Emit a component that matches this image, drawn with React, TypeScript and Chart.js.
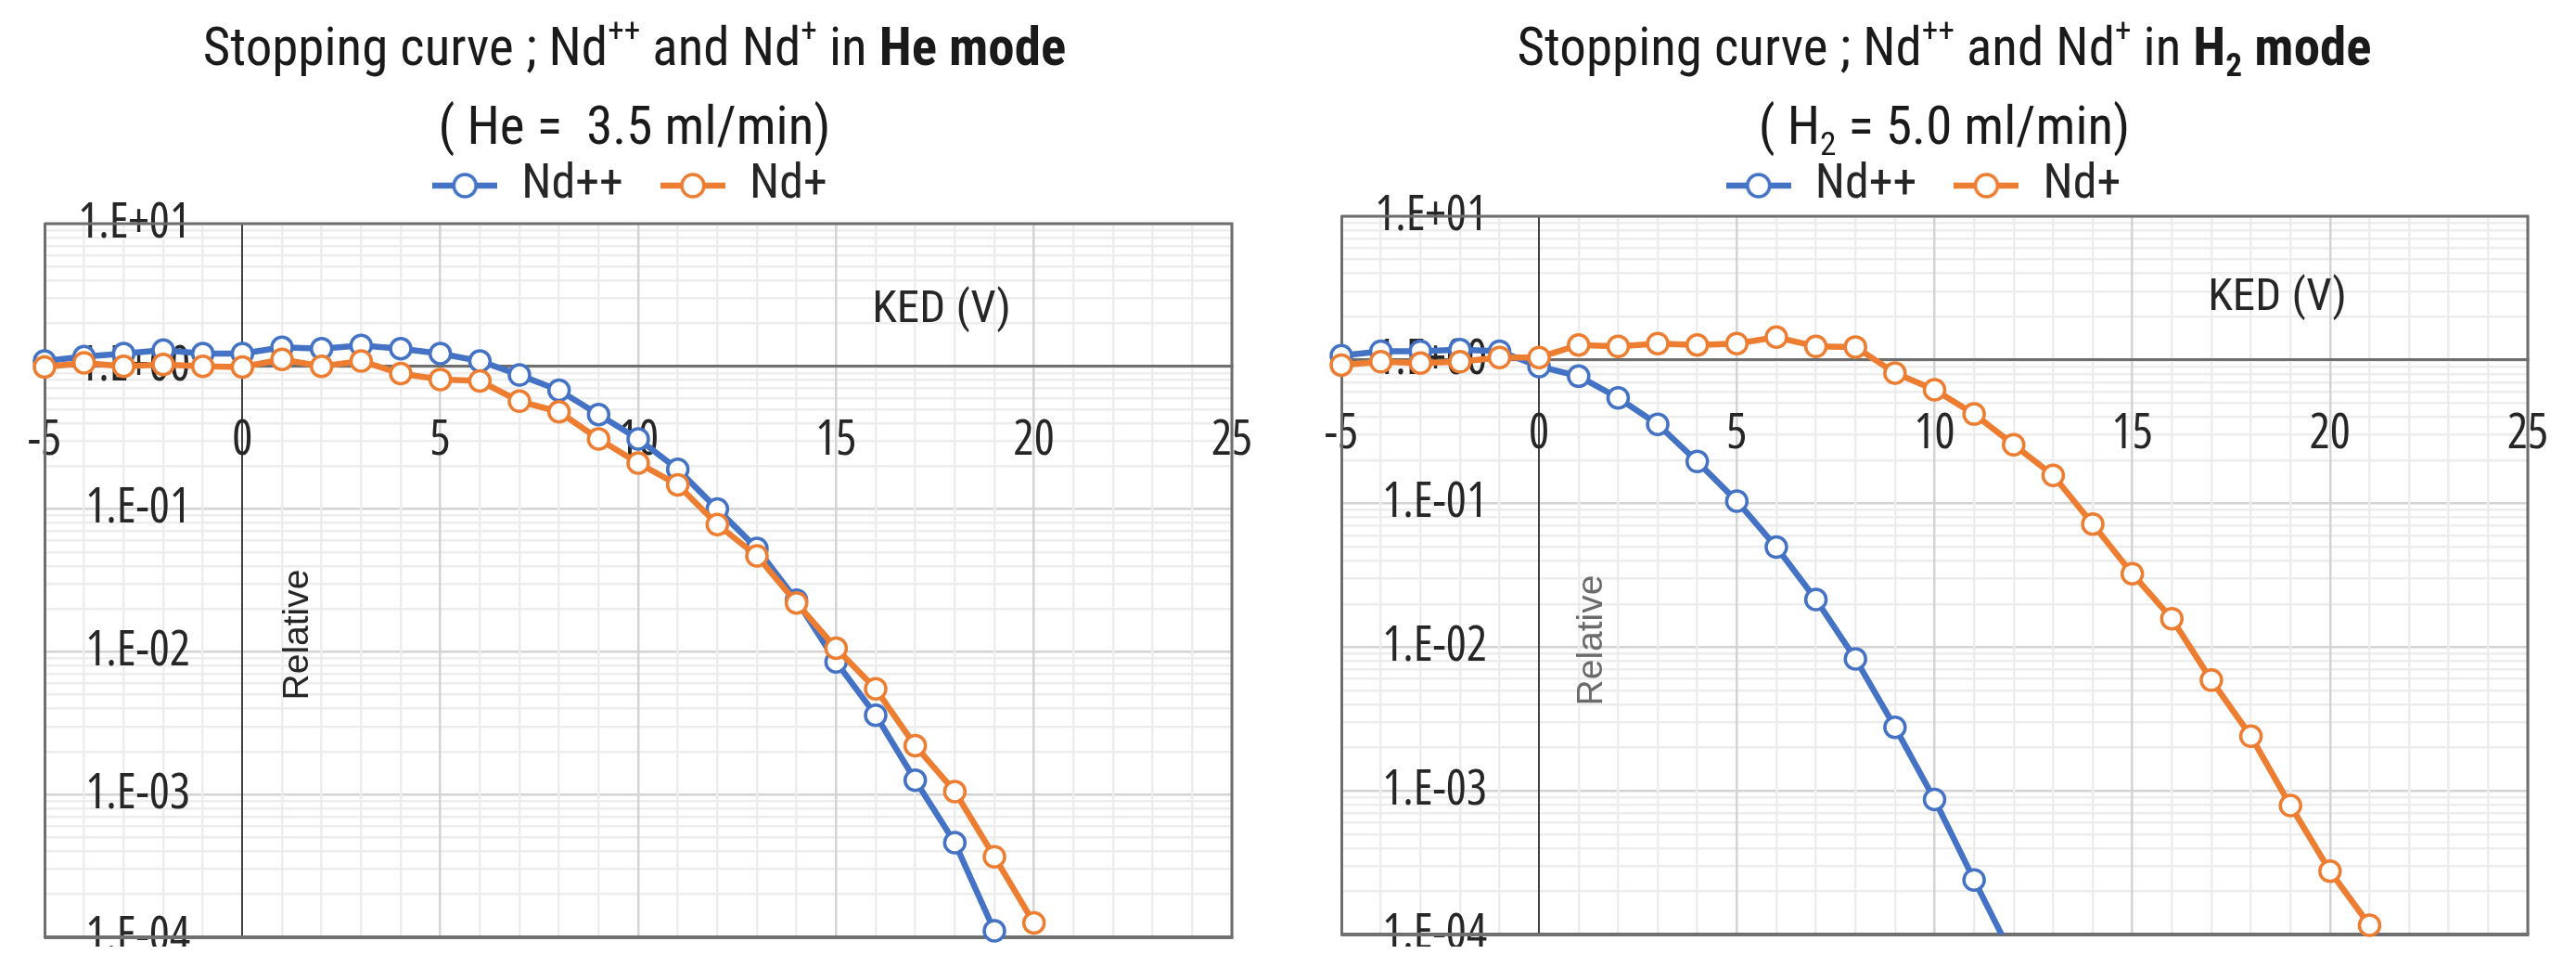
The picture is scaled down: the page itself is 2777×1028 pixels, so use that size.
import React, { useEffect, useRef } from 'react';
import { Chart, registerables } from 'chart.js';

Chart.register(...registerables);

// ---------------- data ----------------
const seriesNames = ['Nd++', 'Nd+'];

// He mode (He = 3.5 ml/min)
const kedHeNdPP = [-5, -4, -3, -2, -1, 0, 1, 2, 3, 4, 5, 6, 7, 8, 9, 10, 11, 12, 13, 14, 15, 16, 17, 18, 19];
const heNdPP = [1.09, 1.17, 1.23, 1.3, 1.23, 1.23, 1.36, 1.33, 1.4, 1.33, 1.23, 1.09, 0.87, 0.68, 0.46, 0.31, 0.19, 0.1, 0.053, 0.023, 0.0085, 0.0036, 0.00126, 0.00046, 0.000111];
const kedHeNdP = [-5, -4, -3, -2, -1, 0, 1, 2, 3, 4, 5, 6, 7, 8, 9, 10, 11, 12, 13, 14, 15, 16, 17, 18, 19, 20];
const heNdP = [0.99, 1.06, 1.0, 1.03, 1.0, 0.99, 1.12, 1.0, 1.09, 0.89, 0.81, 0.79, 0.57, 0.48, 0.31, 0.21, 0.148, 0.078, 0.047, 0.022, 0.0106, 0.0055, 0.0022, 0.00105, 0.000367, 0.000126];

// H2 mode (H2 = 5.0 ml/min)
const kedH2NdPP = [-5, -4, -3, -2, -1, 0, 1, 2, 3, 4, 5, 6, 7, 8, 9, 10, 11, 12];
const h2NdPP = [1.07, 1.15, 1.15, 1.18, 1.15, 0.9, 0.77, 0.544, 0.356, 0.196, 0.104, 0.0497, 0.0215, 0.0083, 0.00277, 0.00087, 0.00024, 0.000068];
const kedH2NdP = [-5, -4, -3, -2, -1, 0, 1, 2, 3, 4, 5, 6, 7, 8, 9, 10, 11, 12, 13, 14, 15, 16, 17, 18, 19, 20, 21];
const h2NdP = [0.92, 0.97, 0.95, 0.97, 1.04, 1.04, 1.27, 1.24, 1.3, 1.27, 1.3, 1.44, 1.24, 1.23, 0.81, 0.62, 0.42, 0.257, 0.157, 0.072, 0.0325, 0.0158, 0.0059, 0.0024, 0.00079, 0.000276, 0.000116];

// axes
const xMin = -5;
const xMax = 25;
const xLabelledTicks = [-5, 0, 5, 10, 15, 20, 25];
const yDecades = [0.0001, 0.001, 0.01, 0.1, 1, 10];
const yMinorMultipliers = [2, 3, 4, 5, 6, 7, 8, 9];
const yTickLabels = ['1.E-04', '1.E-03', '1.E-02', '1.E-01', '1.E+00', '1.E+01'];

// ---------------- style ----------------
const BLUE = '#4472C4';
const ORANGE = '#ED7D31';
const COND = 'Roboto, sans-serif';
const TICKFAM = "'Open Sans', sans-serif";
const REG = "'Liberation Sans', Arial, sans-serif";
const TEXT = '#262626';
const TICK_FONT = 52;
const FRAME = '#6E6E6E';

function yTickValues(): number[] {
  const out: number[] = [];
  for (let d = 0; d < yDecades.length; d++) {
    const dec = yDecades[d];
    out.push(dec);
    if (d < yDecades.length - 1) {
      for (const m of yMinorMultipliers) out.push(Number((m * dec).toPrecision(10)));
    }
  }
  return out;
}

function decadeLabel(v: number): string {
  for (let i = 0; i < yDecades.length; i++) {
    if (Math.abs(v - yDecades[i]) / yDecades[i] < 1e-6) return yTickLabels[i];
  }
  return '';
}

function isDecade(v: number): boolean {
  return decadeLabel(v) !== '';
}

const MARKER_W = 70;

function makeMarker(color: string): HTMLCanvasElement {
  const c = document.createElement('canvas');
  c.width = MARKER_W;
  c.height = 34;
  const g = c.getContext('2d')!;
  g.strokeStyle = color;
  g.lineWidth = 6.5;
  g.beginPath();
  g.moveTo(0, 17);
  g.lineTo(MARKER_W, 17);
  g.stroke();
  g.beginPath();
  g.arc(MARKER_W / 2, 17, 12, 0, Math.PI * 2);
  g.fillStyle = '#ffffff';
  g.fill();
  g.lineWidth = 3.5;
  g.stroke();
  return c;
}

function legendTweakPlugin(gap: number, dx: number) {
  return {
    id: 'legendTweak',
    beforeInit(chart: any) {
      const legend = chart.legend;
      if (!legend) return;
      const orig = legend.fit;
      legend.fit = function () {
        orig.call(this);
        this.height += gap;
      };
    },
    afterLayout(chart: any) {
      const legend = chart.legend;
      if (!legend) return;
      legend.left += dx;
      legend.right += dx;
    },
  };
}

const framePlugin = {
  id: 'frame',
  beforeDatasetsDraw(chart: any) {
    const { ctx, chartArea: a } = chart;
    ctx.save();
    ctx.strokeStyle = FRAME;
    ctx.lineWidth = 3;
    ctx.beginPath();
    ctx.moveTo(a.left, a.top);
    ctx.lineTo(a.right, a.top);
    ctx.lineTo(a.right, a.bottom);
    ctx.stroke();
    ctx.lineWidth = 4;
    ctx.strokeStyle = '#707070';
    ctx.beginPath();
    ctx.moveTo(a.left, a.bottom);
    ctx.lineTo(a.right + 1.5, a.bottom);
    ctx.stroke();
    ctx.restore();
  },
};

const annotPlugin = {
  id: 'annot',
  afterDraw(chart: any, _args: any, opts: any) {
    const { ctx, chartArea } = chart;
    ctx.save();
    ctx.fillStyle = TEXT;
    ctx.font = `condensed 49px ${COND}`;
    ctx.textAlign = 'center';
    ctx.textBaseline = 'middle';
    ctx.fillText('KED (V)', chartArea.left + opts.ked.dx, chartArea.top + opts.ked.dy);
    ctx.translate(chartArea.left + opts.rel.dx, chartArea.top + opts.rel.dy);
    ctx.rotate(-Math.PI / 2);
    ctx.font = `39px ${REG}`;
    ctx.fillStyle = opts.rel.color;
    ctx.fillText('Relative', 0, 0);
    ctx.restore();
  },
};

type PanelProps = {
  left: number;
  width: number;
  pad: { left: number; right: number; top: number; bottom: number };
  gap: number;
  legendDx: number;
  ked: { dx: number; dy: number };
  rel: { dx: number; dy: number; color: string };
  ppX: number[];
  ppY: number[];
  pX: number[];
  pY: number[];
  clipPP: number;
  clipP: number;
};

function Panel(p: PanelProps) {
  const ref = useRef<HTMLCanvasElement>(null);
  useEffect(() => {
    if (!ref.current) return;
    const mctx = document.createElement('canvas').getContext('2d')!;
    mctx.font = `condensed ${TICK_FONT}px ${TICKFAM}`;
    let widest = 0;
    for (const l of yTickLabels) widest = Math.max(widest, mctx.measureText(l).width);
    const yPad = 157 - widest;

    const markers = [makeMarker(BLUE), makeMarker(ORANGE)];
    const yTicks = yTickValues();
    const tickFont = { family: TICKFAM, weight: 'condensed', size: TICK_FONT };

    const mkSet = (label: string, xs: number[], ys: number[], color: string, order: number, clipB: number) => ({
      label,
      data: xs.map((x, i) => ({ x, y: ys[i] })),
      borderColor: color,
      backgroundColor: '#ffffff',
      borderWidth: 6.5,
      pointRadius: 11,
      pointBorderWidth: 3.5,
      pointBackgroundColor: '#ffffff',
      pointBorderColor: color,
      tension: 0,
      order,
      clip: { left: false, right: false, top: false, bottom: clipB } as any,
    });

    const chart = new Chart(ref.current, {
      type: 'line',
      data: {
        datasets: [
          mkSet(seriesNames[0], p.ppX, p.ppY, BLUE, 1, p.clipPP),
          mkSet(seriesNames[1], p.pX, p.pY, ORANGE, 0, p.clipP),
        ],
      },
      options: {
        animation: false,
        responsive: false,
        maintainAspectRatio: false,
        layout: { padding: p.pad },
        plugins: {
          tooltip: { enabled: false },
          legend: {
            display: true,
            position: 'top',
            labels: {
              usePointStyle: true,
              pointStyleWidth: MARKER_W,
              padding: 40,
              color: TEXT,
              font: { family: COND, weight: 'condensed', size: 52 },
              generateLabels: (ch: any) =>
                ch.data.datasets.map((ds: any, i: number) => ({
                  text: ds.label,
                  pointStyle: markers[i],
                  fillStyle: ds.borderColor,
                  strokeStyle: ds.borderColor,
                  lineWidth: 0,
                  hidden: false,
                  datasetIndex: i,
                  fontColor: TEXT,
                })),
            },
          },
          annot: { ked: p.ked, rel: p.rel },
        } as any,
        scales: {
          x: {
            type: 'linear',
            min: xMin,
            max: xMax,
            position: { y: 1 } as any,
            ticks: {
              stepSize: 1,
              autoSkip: false,
              maxRotation: 0,
              padding: 49,
              color: TEXT,
              font: tickFont as any,
              callback: (v: any) => (xLabelledTicks.includes(Number(v)) ? String(v) : ''),
            },
            grid: {
              drawTicks: false,
              z: -1,
              color: (c: any) => {
                const v = c.tick ? c.tick.value : NaN;
                if (v === 0) return '#404040';
                if (v % 5 === 0) return '#D4D4D4';
                return '#EDEDED';
              },
              lineWidth: (c: any) => {
                const v = c.tick ? c.tick.value : NaN;
                if (v === 0) return 2;
                return 2.5;
              },
            },
            border: { display: true, color: FRAME, width: 3 },
            afterFit: (s: any) => {
              s.paddingLeft = 0;
              s.paddingRight = 0;
            },
          },
          y: {
            type: 'logarithmic',
            min: yDecades[0],
            max: yDecades[yDecades.length - 1],
            position: 'left',
            afterBuildTicks: (s: any) => {
              s.ticks = yTicks.map((v) => ({ value: v }));
            },
            ticks: {
              autoSkip: false,
              mirror: true,
              crossAlign: 'far',
              padding: yPad,
              color: TEXT,
              font: tickFont as any,
              callback: (v: any) => decadeLabel(Number(v)),
            },
            grid: {
              drawTicks: false,
              z: -2,
              color: (c: any) => {
                const v = c.tick ? c.tick.value : NaN;
                if (isDecade(v)) return '#D4D4D4';
                return '#EDEDED';
              },
              lineWidth: 2.5,
            },
            border: { display: true, color: FRAME, width: 3 },
            afterFit: (s: any) => {
              s.width = 0;
              s.paddingTop = 0;
              s.paddingBottom = 0;
            },
          },
        },
      } as any,
      plugins: [legendTweakPlugin(p.gap, p.legendDx), framePlugin, annotPlugin],
    });
    return () => chart.destroy();
  }, []);

  return (
    <canvas
      ref={ref}
      width={p.width}
      height={1028}
      style={{ position: 'absolute', left: p.left, top: 0, width: p.width, height: 1028 }}
    />
  );
}

const supStyle: React.CSSProperties = { fontSize: '62%', position: 'relative', top: '-0.75em' };
const subStyle: React.CSSProperties = { fontSize: '62%', position: 'relative', top: '0.35em' };

function Title(props: { cx: number; line1: React.ReactNode; line2: React.ReactNode }) {
  return (
    <div
      style={{
        position: 'absolute',
        left: props.cx,
        top: 12,
        transform: 'translateX(-50%)',
        fontFamily: COND,
        fontStretch: 'condensed',
        fontSize: 57,
        lineHeight: '77px',
        color: '#1a1a1a',
        textAlign: 'center',
        whiteSpace: 'pre',
        zIndex: 2,
      }}
    >
      <div>{props.line1}</div>
      <div>{props.line2}</div>
    </div>
  );
}

export default function App() {
  useEffect(() => {
    document.body.style.overflow = 'hidden';
  }, []);
  return (
    <div style={{ position: 'relative', margin: -8, width: 2777, height: 1028, overflow: 'hidden', background: '#ffffff' }}>
      <Panel
        left={0}
        width={1389}
        pad={{ left: 48, right: 61, top: 134, bottom: 18 }}
        gap={5}
        legendDx={-9}
        ked={{ dx: 967, dy: 94 }}
        rel={{ dx: 273, dy: 443, color: '#262626' }}
        ppX={kedHeNdPP}
        ppY={heNdPP}
        pX={kedHeNdP}
        pY={heNdP}
        clipPP={16}
        clipP={16}
      />
      <Panel
        left={1389}
        width={1388}
        pad={{ left: 57, right: 52, top: 134, bottom: 21 }}
        gap={-3}
        legendDx={-12}
        ked={{ dx: 1009, dy: 89 }}
        rel={{ dx: 270, dy: 457, color: '#6b6b6b' }}
        ppX={kedH2NdPP}
        ppY={h2NdPP}
        pX={kedH2NdP}
        pY={h2NdP}
        clipPP={0}
        clipP={16}
      />
      <Title
        cx={684}
        line1={
          <>
            Stopping curve ; Nd<span style={supStyle}>++</span> and Nd<span style={supStyle}>+</span> in <b>He mode</b>
          </>
        }
        line2={<>( He =  3.5 ml/min)</>}
      />
      <Title
        cx={2096}
        line1={
          <>
            Stopping curve ; Nd<span style={supStyle}>++</span> and Nd<span style={supStyle}>+</span> in{' '}
            <b>
              H<span style={subStyle}>2</span> mode
            </b>
          </>
        }
        line2={
          <>
            ( H<span style={subStyle}>2</span> = 5.0 ml/min)
          </>
        }
      />
    </div>
  );
}
